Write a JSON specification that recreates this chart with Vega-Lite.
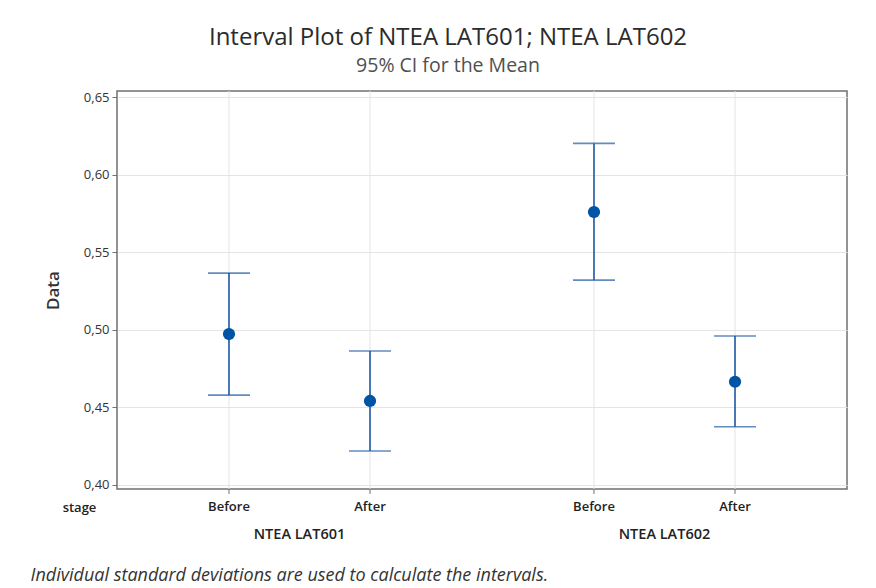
{
  "$schema": "https://vega.github.io/schema/vega-lite/v6.json",
  "width": 730,
  "height": 398,
  "autosize": "none",
  "padding": {"left": 117, "top": 91, "right": 29, "bottom": 99},
  "background": "white",
  "config": {
    "font": "Open Sans",
    "view": {"stroke": "#707070", "strokeWidth": 1.5}
  },
  "title": {
    "text": "Interval Plot of NTEA LAT601; NTEA LAT602",
    "subtitle": "95% CI for the Mean",
    "fontSize": 24,
    "fontWeight": "normal",
    "color": "#2b2b2b",
    "subtitleFontSize": 19.5,
    "subtitleColor": "#505050",
    "subtitlePadding": 7,
    "anchor": "middle",
    "dx": -34,
    "offset": 15
  },
  "data": {
    "values": [
      {"group": "NTEA LAT601", "stage": "Before", "mean": 0.4971, "lower": 0.4577, "upper": 0.5364},
      {"group": "NTEA LAT601", "stage": "After", "mean": 0.4539, "lower": 0.4216, "upper": 0.4861},
      {"group": "NTEA LAT602", "stage": "Before", "mean": 0.5758, "lower": 0.5319, "upper": 0.6201},
      {"group": "NTEA LAT602", "stage": "After", "mean": 0.4663, "lower": 0.4373, "upper": 0.4958}
    ]
  },
  "resolve": {"axis": {"x": "independent"}},
  "layer": [
    {
      "mark": {"type": "rule", "color": "#e4e4e4", "strokeWidth": 1},
      "encoding": {
        "x": {
          "field": "group", "type": "nominal", "sort": ["NTEA LAT601", "NTEA LAT602"],
          "scale": {"paddingInner": 0, "paddingOuter": 0},
          "axis": {
            "orient": "bottom",
            "grid": false, "ticks": false, "domain": false,
            "labelAngle": 0, "labelPadding": 38, "labelFontSize": 14.5, "labelFontWeight": 600, "labelColor": "#222222",
            "title": "Individual standard deviations are used to calculate the intervals.",
            "titleFontStyle": "italic", "titleFontWeight": "normal", "titleFontSize": 18,
            "titleColor": "#333333", "titleX": -87, "titleY": 86,
            "titleAlign": "left", "titleBaseline": "middle", "titleAnchor": "start"
          }
        },
        "xOffset": {"field": "stage", "type": "nominal", "sort": ["Before", "After"], "scale": {"paddingOuter": 0.294, "paddingInner": 0}}
      }
    },
    {
      "mark": {"type": "rule", "color": "#707070", "strokeWidth": 1},
      "encoding": {
        "x": {"field": "group", "type": "nominal", "sort": ["NTEA LAT601", "NTEA LAT602"], "axis": null},
        "xOffset": {"field": "stage", "type": "nominal", "sort": ["Before", "After"]},
        "y": {"datum": 0.3971, "type": "quantitative"},
        "y2": {"datum": 0.3939}
      }
    },
    {
      "mark": {"type": "rule", "color": "#1f5aa6", "strokeWidth": 1.6},
      "encoding": {
        "x": {"field": "group", "type": "nominal", "sort": ["NTEA LAT601", "NTEA LAT602"], "axis": null},
        "xOffset": {"field": "stage", "type": "nominal", "sort": ["Before", "After"]},
        "y": {
          "field": "lower", "type": "quantitative",
          "scale": {"domain": [0.3971, 0.6539], "nice": false, "zero": false},
          "axis": {
            "values": [0.4, 0.45, 0.5, 0.55, 0.6, 0.65],
            "labelExpr": "replace(format(datum.value, '.2f'), '.', ',')",
            "grid": true, "gridColor": "#e4e4e4", "gridWidth": 1,
            "domain": false, "tickColor": "#707070", "tickSize": 5, "tickWidth": 1,
            "labelFontSize": 13, "labelColor": "#333333", "labelPadding": 3,
            "title": "Data", "titleFontSize": 17, "titleFontWeight": 600, "titleColor": "#333333",
            "titleX": -64, "titleY": 199, "titleAngle": -90, "titleAlign": "center", "titleBaseline": "middle"
          }
        },
        "y2": {"field": "upper"}
      }
    },
    {
      "mark": {"type": "tick", "color": "#1f5aa6", "thickness": 1.6, "size": 42},
      "encoding": {
        "x": {"field": "group", "type": "nominal", "sort": ["NTEA LAT601", "NTEA LAT602"], "axis": null},
        "xOffset": {"field": "stage", "type": "nominal", "sort": ["Before", "After"]},
        "y": {"field": "lower", "type": "quantitative"}
      }
    },
    {
      "mark": {"type": "tick", "color": "#1f5aa6", "thickness": 1.6, "size": 42},
      "encoding": {
        "x": {"field": "group", "type": "nominal", "sort": ["NTEA LAT601", "NTEA LAT602"], "axis": null},
        "xOffset": {"field": "stage", "type": "nominal", "sort": ["Before", "After"]},
        "y": {"field": "upper", "type": "quantitative"}
      }
    },
    {
      "mark": {"type": "circle", "color": "#0054a6", "size": 150, "opacity": 1},
      "encoding": {
        "x": {"field": "group", "type": "nominal", "sort": ["NTEA LAT601", "NTEA LAT602"], "axis": null},
        "xOffset": {"field": "stage", "type": "nominal", "sort": ["Before", "After"]},
        "y": {"field": "mean", "type": "quantitative"}
      }
    },
    {
      "mark": {"type": "text", "fontSize": 13, "fontWeight": 600, "color": "#222222", "baseline": "middle", "align": "center"},
      "encoding": {
        "x": {
          "field": "group", "type": "nominal", "sort": ["NTEA LAT601", "NTEA LAT602"],
          "axis": {
            "orient": "bottom",
            "labels": false, "ticks": false, "domain": false, "grid": false,
            "title": "stage", "titleFontSize": 13, "titleFontWeight": 600, "titleColor": "#222222",
            "titleX": -38, "titleY": 18, "titleAlign": "center", "titleBaseline": "middle", "titleAngle": 0
          }
        },
        "xOffset": {"field": "stage", "type": "nominal", "sort": ["Before", "After"]},
        "y": {"datum": 0.3855, "type": "quantitative"},
        "text": {"field": "stage"}
      }
    }
  ]
}
